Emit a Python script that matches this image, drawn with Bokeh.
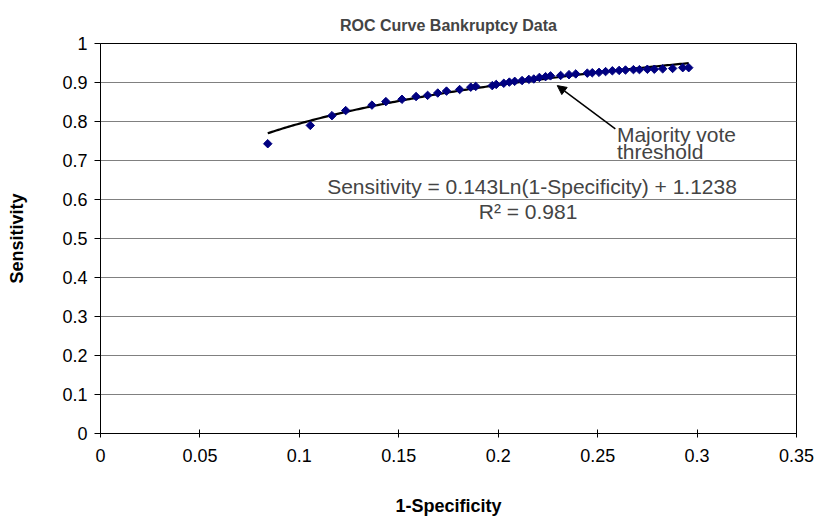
import numpy as np
from bokeh.plotting import figure
from bokeh.models import Range1d, FixedTicker, Label, Arrow, NormalHead, ColumnDataSource
from bokeh.embed import file_html
from bokeh.resources import INLINE

# ---- data ----
one_minus_specificity = [0.0841, 0.1055, 0.1164, 0.1233, 0.1365, 0.1435, 0.1516, 0.1587,
                         0.1645, 0.1696, 0.1740, 0.1806, 0.1862, 0.1887, 0.1970, 0.1990,
                         0.2028, 0.2056, 0.2083, 0.2120, 0.2154, 0.2179, 0.2207, 0.2238,
                         0.2263, 0.2314, 0.2356, 0.2390, 0.2448, 0.2473, 0.2507, 0.2540,
                         0.2574, 0.2608, 0.2640, 0.2680, 0.2710, 0.2750, 0.2785, 0.2827,
                         0.2877, 0.2928, 0.2958]
sensitivity = [0.743, 0.790, 0.815, 0.828, 0.842, 0.851, 0.857, 0.864,
               0.867, 0.873, 0.878, 0.882, 0.888, 0.890, 0.892, 0.895,
               0.898, 0.901, 0.903, 0.905, 0.908, 0.909, 0.913, 0.915,
               0.917, 0.918, 0.920, 0.922, 0.924, 0.925, 0.926, 0.928,
               0.930, 0.931, 0.932, 0.933, 0.933, 0.934, 0.934, 0.935,
               0.936, 0.938, 0.938]

# logarithmic trendline coefficients stated on the chart
fit_slope = 0.143
fit_intercept = 1.1238

x_ticks = [0, 0.05, 0.1, 0.15, 0.2, 0.25, 0.3, 0.35]
x_tick_labels = ["0", "0.05", "0.1", "0.15", "0.2", "0.25", "0.3", "0.35"]
y_ticks = [0, 0.1, 0.2, 0.3, 0.4, 0.5, 0.6, 0.7, 0.8, 0.9, 1]
y_tick_labels = ["0", "0.1", "0.2", "0.3", "0.4", "0.5", "0.6", "0.7", "0.8", "0.9", "1"]

title_text = "ROC Curve Bankruptcy Data"
x_label = "1-Specificity"
y_label = "Sensitivity"
equation_text = "Sensitivity = 0.143Ln(1-Specificity) + 1.1238"
r2_text = "R\u00b2 = 0.981"
arrow_label_1 = "Majority vote"
arrow_label_2 = "threshold"
# arrow: from label to the majority-vote point
arrow_tail = (0.2589, 0.781)
arrow_head = (0.2297, 0.892)

FONT = "Liberation Sans"

p = figure(width=814, height=518, output_backend="svg", toolbar_location=None,
           x_range=Range1d(0, 0.35), y_range=Range1d(0, 1),
           min_border_left=100, min_border_right=18, min_border_top=43, min_border_bottom=85)

p.title.text = title_text
p.title.text_font = FONT
p.title.text_font_size = "16px"
p.title.text_font_style = "bold"
p.title.align = "center"
p.title.vertical_align = "top"
p.title.standoff = 16

p.background_fill_color = "white"
p.border_fill_color = "white"
p.outline_line_color = "black"
p.outline_line_width = 1

# grid
p.xgrid.grid_line_color = None
p.ygrid.grid_line_color = "#808080"
p.ygrid.grid_line_width = 1
p.ygrid.ticker = FixedTicker(ticks=y_ticks)

# axes
p.xaxis.ticker = FixedTicker(ticks=x_ticks)
p.yaxis.ticker = FixedTicker(ticks=y_ticks)
p.xaxis.major_label_overrides = {t: l for t, l in zip(x_ticks, x_tick_labels)}
p.yaxis.major_label_overrides = {t: l for t, l in zip(y_ticks, y_tick_labels)}
for ax in (p.xaxis[0], p.yaxis[0]):
    ax.axis_line_color = "black"
    ax.major_tick_line_color = "black"
    ax.minor_tick_line_color = None
    ax.major_label_text_font = FONT
    ax.major_label_text_font_size = "18px"
    ax.major_label_text_color = "black"
    ax.axis_label_text_font = FONT
    ax.axis_label_text_font_size = "18px"
    ax.axis_label_text_font_style = "bold"
    ax.axis_label_text_color = "black"
p.xaxis.major_tick_in = 4
p.xaxis.major_tick_out = 4
p.yaxis.major_tick_in = 0
p.yaxis.major_tick_out = 6
p.xaxis.major_label_standoff = 11
p.yaxis.major_label_standoff = 7
p.xaxis.axis_label = x_label
p.yaxis.axis_label = y_label
p.xaxis.axis_label_standoff = 31
p.yaxis.axis_label_standoff = 32

# trendline
fx = np.linspace(min(one_minus_specificity), max(one_minus_specificity), 200)
fy = fit_slope * np.log(fx) + fit_intercept
p.line(fx, fy, line_color="black", line_width=2.2)

# data points
src = ColumnDataSource(dict(x=one_minus_specificity, y=sensitivity))
p.scatter("x", "y", source=src, marker="square", angle=np.pi / 4, size=6,
          fill_color="#000080", line_color="#000080")

# annotations
p.add_layout(Arrow(end=NormalHead(size=9, fill_color="black", line_color="black"),
                   x_start=arrow_tail[0], y_start=arrow_tail[1],
                   x_end=arrow_head[0], y_end=arrow_head[1],
                   line_color="black", line_width=1.5))
p.add_layout(Label(x=0.2597, y=0.766, text=arrow_label_1, text_font=FONT,
                   text_font_size="21px", text_align="left", text_baseline="alphabetic"))
p.add_layout(Label(x=0.2597, y=0.722, text=arrow_label_2, text_font=FONT,
                   text_font_size="21px", text_align="left", text_baseline="alphabetic"))
p.add_layout(Label(x=0.2170, y=0.634, text=equation_text, text_font=FONT,
                   text_font_size="21px", text_align="center", text_baseline="alphabetic"))
p.add_layout(Label(x=0.2150, y=0.570, text=r2_text, text_font=FONT,
                   text_font_size="21px", text_align="center", text_baseline="alphabetic"))

open("out.html", "w").write(file_html(p, INLINE))
